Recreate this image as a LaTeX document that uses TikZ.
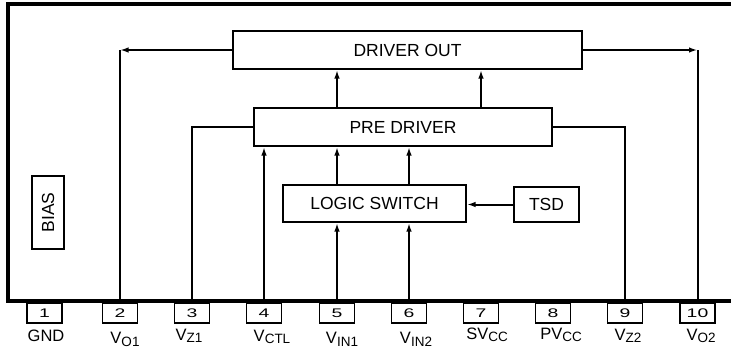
\documentclass[tikz,border=0pt]{standalone}
\usepackage{fontspec}
\setmainfont{Liberation Sans}
\usetikzlibrary{arrows.meta,positioning}
\newcommand{\pinsub}[1]{\raisebox{-2.5pt}{\fontsize{13.5}{15}\selectfont #1}}
\newcommand{\pinnum}[1]{\scalebox{1.55}[1]{#1}}
\begin{document}
\begin{tikzpicture}[x=1pt, y=-1pt,
  blk/.style={rectangle, draw, line width=2pt, inner sep=0pt, font=\fontsize{17.5}{20}\selectfont},
  pinbox/.style={rectangle, draw, line width=1.7pt, minimum width=35pt, minimum height=20pt, inner sep=0pt, font=\fontsize{12.5}{14}\selectfont},
  pinlbl/.style={anchor=base, inner sep=0pt, font=\fontsize{16.5}{18}\selectfont},
  sig/.style={line width=2pt},
  arr/.style={sig, -{Latex[length=8.5pt,width=5.5pt]}},
  frame/.style={line width=4pt, line join=miter}]
\useasboundingbox (0,0) rectangle (731,349);
\draw[frame] (731,4) -| (8,300.5) -- (731,300.5);
\node[blk, minimum width=349pt, minimum height=38pt] (drv) at (407.5,50) {DRIVER OUT};
\node[blk, minimum width=298pt, minimum height=38pt] (pre) at (403,127) {PRE DRIVER};
\node[blk, minimum width=183pt, minimum height=37pt] (lsw) at (374.5,203.5) {LOGIC SWITCH};
\node[blk, minimum width=65pt, minimum height=35pt] (tsd) at (546.5,204.5) {TSD};
\node[blk, minimum width=73pt, minimum height=32pt, rotate=90] (bias) at (48,212.5) {BIAS};
% pins and their names
\foreach \n/\x/\lx/\ly/\t in {1/44.5/46/341.5/GND, 2/120/125/343.5/{V\pinsub{O1}},
    3/192/189/340/{V\pinsub{Z1}}, 4/264/272/341/{V\pinsub{CTL}},
    5/337/342/343.5/{V\pinsub{IN1}}, 6/409/416/343.5/{V\pinsub{IN2}},
    7/481/487/339/{SV\pinsub{CC}}, 8/553/561/339/{PV\pinsub{CC}},
    9/625/628/340/{V\pinsub{Z2}}, 10/697.5/701/340/{V\pinsub{O2}}} {
  \node[pinbox] (p\n) at (\x,313) {\pinnum{\n}};
  \node[pinlbl] (l\n) at (\lx,\ly) {\t};
}
% outputs
\draw[sig] (p2.north) -- (p2.north |- drv.west);
\draw[arr] (drv.west) -- (p2.north |- drv.west);
\draw[sig] (p10.north) -- (p10.north |- drv.east);
\draw[arr] (drv.east) -- (p10.north |- drv.east);
\draw[sig] (pre.west) -| (p3.north);
\draw[sig] (pre.east) -| (p9.north);
\draw[arr] (p4.north) -- (p4.north |- pre.south);
\foreach \n in {5,6} {
  \draw[arr] (p\n.north) -- (p\n.north |- lsw.south);
  \draw[arr] (p\n.north |- lsw.north) -- (p\n.north |- pre.south);
}
\foreach \n in {5,7} \draw[arr] (p\n.north |- pre.north) -- (p\n.north |- drv.south);
\draw[arr] (tsd.west) -- (tsd.west -| lsw.east);
\end{tikzpicture}
\end{document}
